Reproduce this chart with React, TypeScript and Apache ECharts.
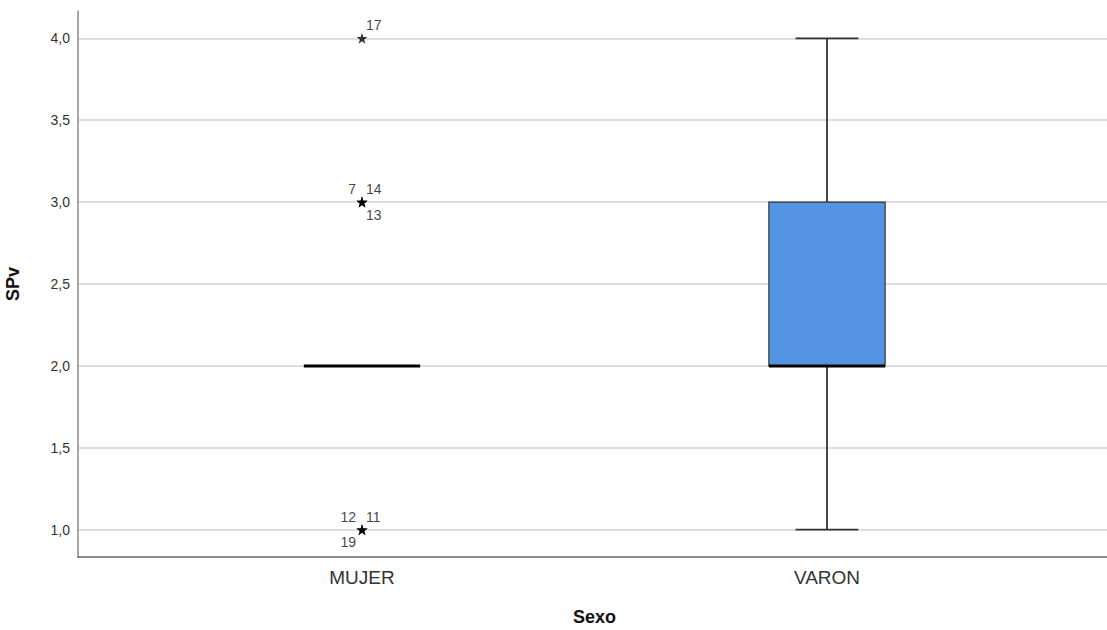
import React, { useEffect, useRef } from 'react';
import * as echarts from 'echarts';

const categories = ['MUJER', 'VARON'];
// box statistics per category
const boxLower = [2, 1];
const boxQ1 = [2, 2];
const boxMedian = [2, 2];
const boxQ3 = [2, 3];
const boxUpper = [2, 4];

const outlierCategory = [0, 0, 0, 0, 0, 0, 0];
const outlierValues = [4, 3, 3, 3, 1, 1, 1];
const outlierCases = ['17', '7', '14', '13', '12', '11', '19'];

const yTicks = [1, 1.5, 2, 2.5, 3, 3.5, 4];
const yMin = 0.8333;
const yMax = 4.1667;

const xName = 'Sexo';
const yName = 'SPv';

// label placement around the star (style only)
const labelPlacement: Record<string, string> = {
  '17': 'tr', '7': 'tl', '14': 'tr', '13': 'br', '12': 'tl', '11': 'tr', '19': 'bl',
};

const FONT = '"Liberation Sans", Arial, sans-serif';
const STAR = 'path://M50,0 L61.8,36.2 L100,36.2 L69.1,58.6 L80.9,95.1 L50,72.7 L19.1,95.1 L30.9,58.6 L0,36.2 L38.2,36.2 Z';

export default function App() {
  const ref = useRef<HTMLDivElement>(null);
  useEffect(() => {
    document.body.style.margin = '0';
    const chart = echarts.init(ref.current!, null, { renderer: 'svg' });

    const boxData = categories.map((_, i) => [i, boxLower[i], boxQ1[i], boxMedian[i], boxQ3[i], boxUpper[i]]);

    const outlierData = outlierValues.map((v, i) => {
      const p = labelPlacement[outlierCases[i]];
      const right = p[1] === 'r';
      const top = p[0] === 't';
      return {
        value: [outlierCategory[i], v],
        label: {
          show: true,
          formatter: outlierCases[i],
          position: 'inside',
          align: right ? 'left' : 'right',
          verticalAlign: 'middle',
          offset: [right ? 4 : -6, top ? -13 : 12.5],
          fontSize: 14,
          fontFamily: FONT,
          color: '#111',
        },
      };
    });

    chart.setOption({
      animation: false,
      backgroundColor: '#ffffff',
      grid: [
        { left: 78, right: 0, top: 11, bottom: 73, outerBoundsMode: 'none', containLabel: false },
        { left: 129.5, width: 930, top: 11, bottom: 73, outerBoundsMode: 'none', containLabel: false },
      ],
      xAxis: [
        {
          gridIndex: 0, type: 'value', min: 0, max: 1,
          axisLine: { show: true, lineStyle: { color: '#666', width: 1.5 } },
          axisTick: { show: false }, axisLabel: { show: false }, splitLine: { show: false },
        },
        {
          gridIndex: 1, type: 'category', data: categories,
          axisLine: { show: false }, axisTick: { show: false },
          axisLabel: { fontSize: 19, fontFamily: FONT, color: '#333', margin: 11 },
          name: xName, nameLocation: 'middle', nameGap: 51,
          nameTextStyle: { fontSize: 18, fontWeight: 'bold', fontFamily: FONT, color: '#111' },
        },
      ],
      yAxis: [
        {
          gridIndex: 0, type: 'value', min: yMin, max: yMax,
          axisLine: { show: true, lineStyle: { color: '#888', width: 1.5 } },
          axisTick: { show: false, customValues: yTicks },
          axisLabel: {
            customValues: yTicks, fontSize: 14, fontFamily: FONT, color: '#333', margin: 8,
            formatter: (v: number) => v.toFixed(1).replace('.', ','),
          },
          splitLine: { show: true, lineStyle: { color: '#d3d3d3', width: 1.5 } },
          name: yName, nameLocation: 'middle', nameGap: 56,
          nameTextStyle: { fontSize: 18, fontWeight: 'bold', fontFamily: FONT, color: '#111' },
        },
        {
          gridIndex: 1, type: 'value', min: yMin, max: yMax, show: false,
          splitLine: { show: false },
        },
      ],
      series: [
        {
          type: 'custom',
          xAxisIndex: 1, yAxisIndex: 1,
          data: boxData,
          encode: { x: 0, y: [1, 2, 3, 4, 5] },
          renderItem: (params: any, api: any) => {
            const c = api.value(0);
            const lo = api.coord([c, api.value(1)]);
            const q1 = api.coord([c, api.value(2)]);
            const med = api.coord([c, api.value(3)]);
            const q3 = api.coord([c, api.value(4)]);
            const hi = api.coord([c, api.value(5)]);
            const bw = api.size([1, 0])[0] * 0.25;
            const x = lo[0];
            const stroke = { stroke: '#333', lineWidth: 1.8 };
            return {
              type: 'group',
              children: [
                { type: 'line', shape: { x1: x, y1: lo[1], x2: x, y2: hi[1] }, style: stroke },
                { type: 'line', shape: { x1: x - bw * 0.27, y1: lo[1], x2: x + bw * 0.27, y2: lo[1] }, style: stroke },
                { type: 'line', shape: { x1: x - bw * 0.27, y1: hi[1], x2: x + bw * 0.27, y2: hi[1] }, style: stroke },
                {
                  type: 'rect',
                  shape: { x: x - bw / 2, y: q3[1], width: bw, height: q1[1] - q3[1] },
                  style: { fill: '#5394e3', stroke: '#333', lineWidth: 1.2 },
                },
                { type: 'line', shape: { x1: x - bw / 2, y1: med[1], x2: x + bw / 2, y2: med[1] }, style: { stroke: '#000', lineWidth: 3 } },
              ],
            };
          },
          z: 3,
        },
        {
          type: 'scatter',
          xAxisIndex: 1, yAxisIndex: 1,
          symbol: STAR,
          symbolSize: 11,
          itemStyle: { color: '#000' },
          data: outlierData,
          z: 4,
        },
      ],
    });
    return () => chart.dispose();
  }, []);
  return <div ref={ref} style={{ width: 1107, height: 630 }} />;
}
